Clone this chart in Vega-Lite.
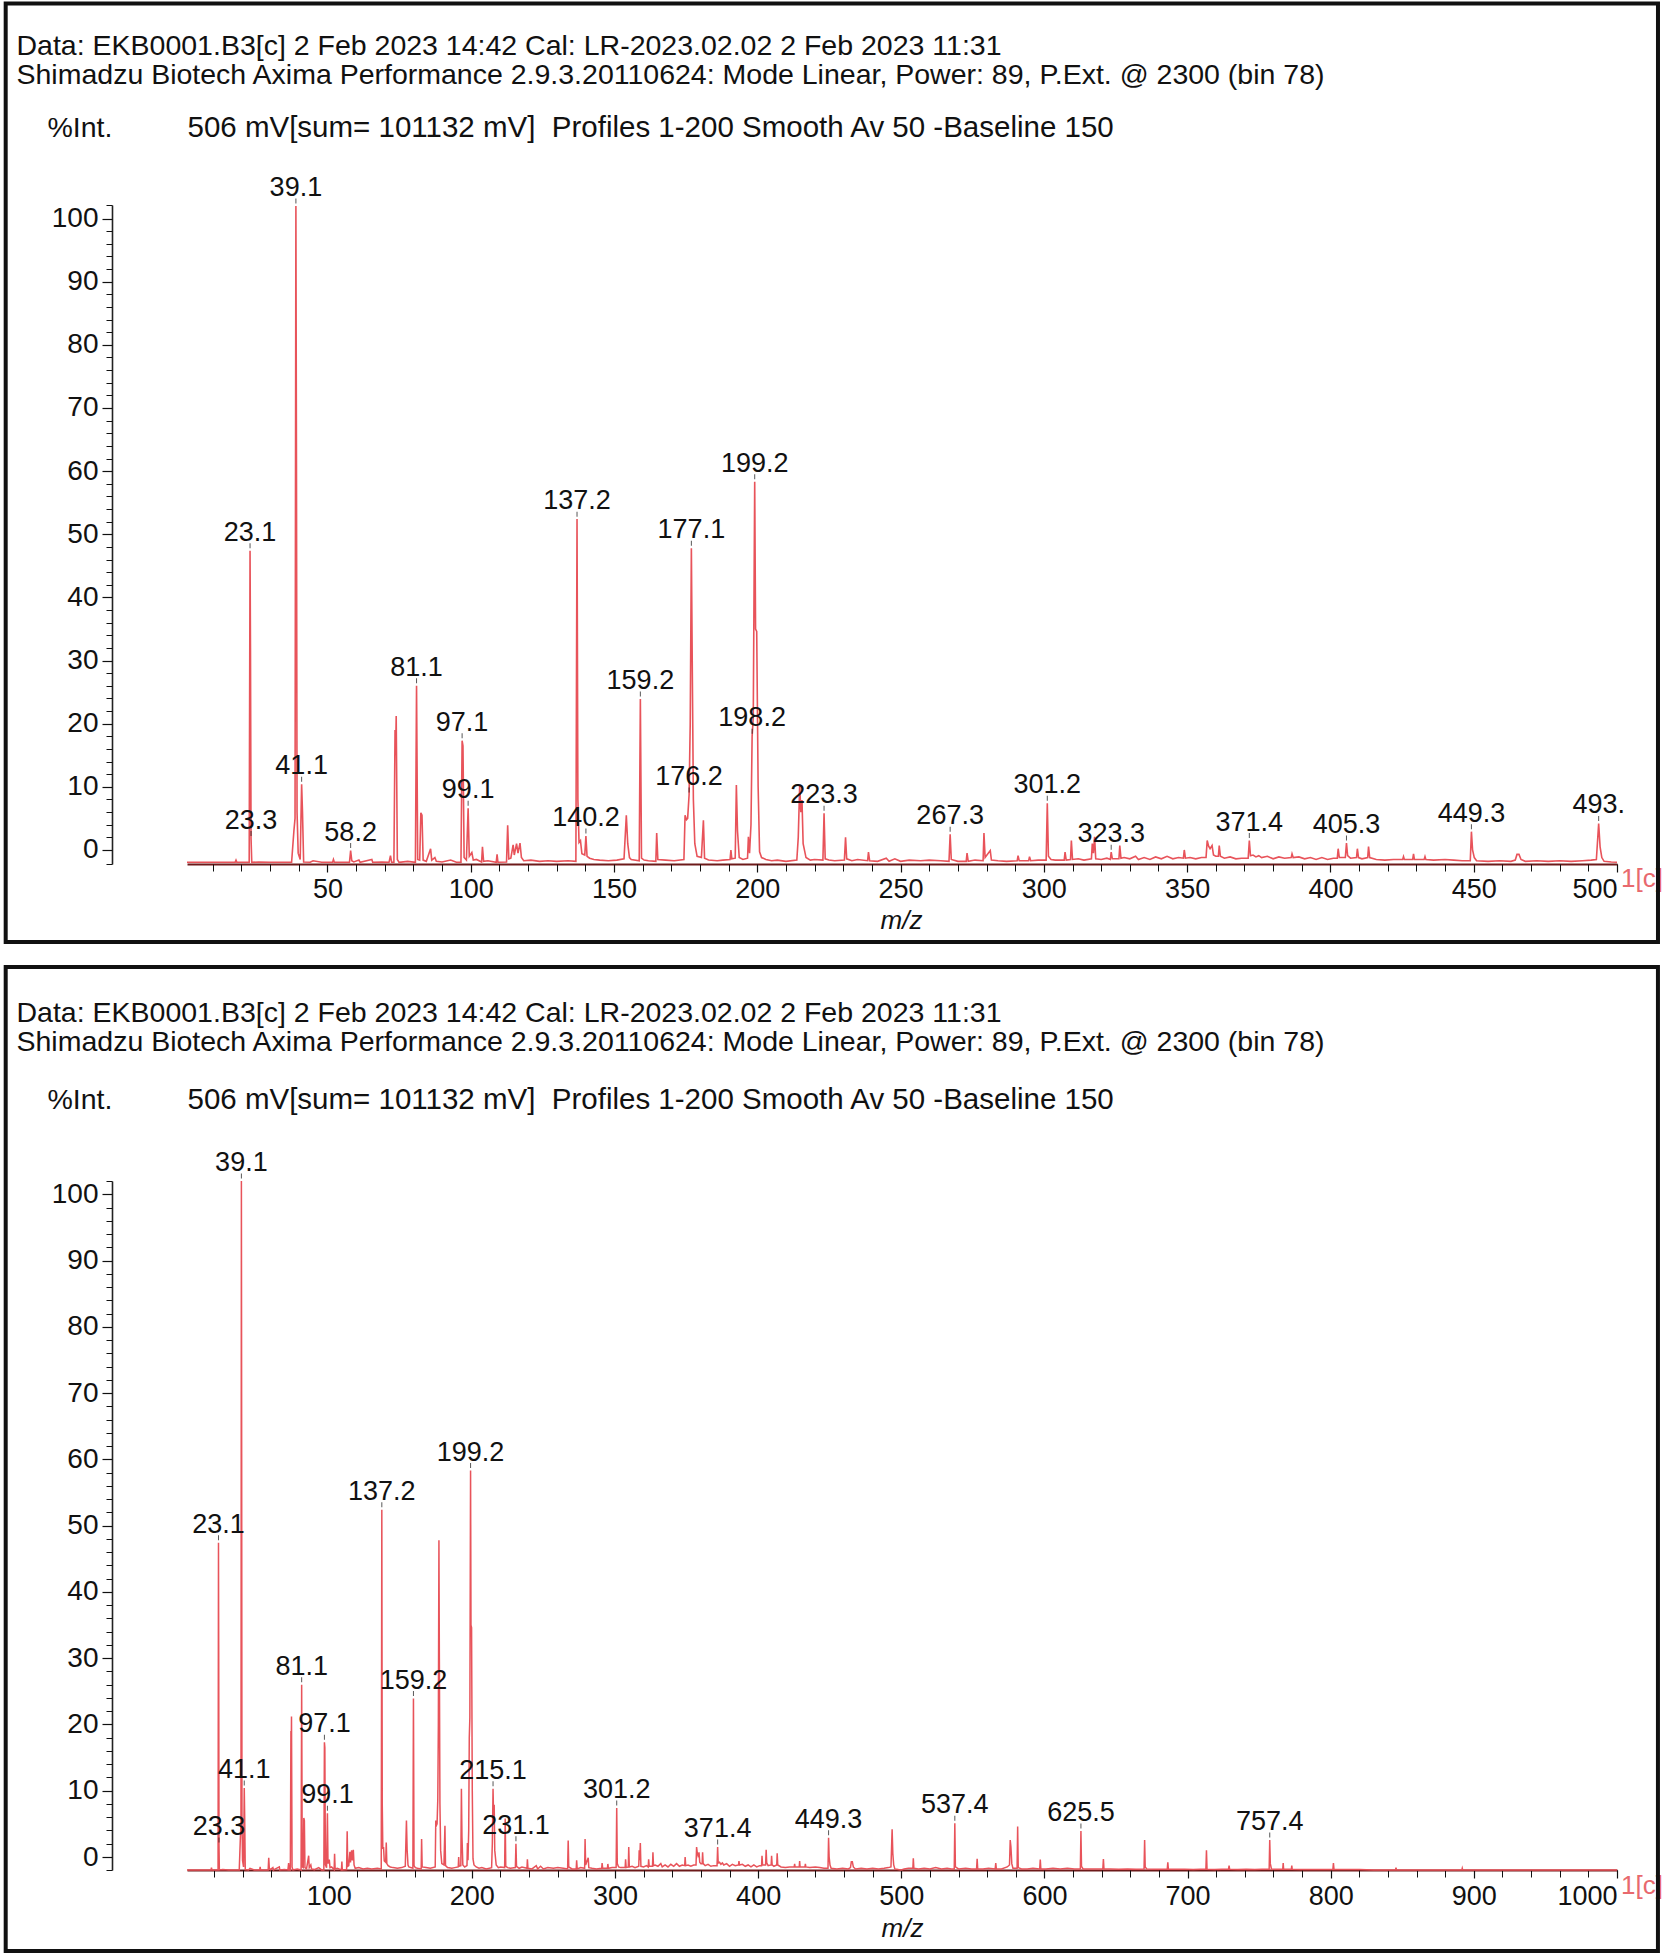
{
  "$schema": "https://vega.github.io/schema/vega-lite/v6.json",
  "background": "white",
  "padding": {"left": 3, "top": 1, "right": 0, "bottom": 0},
  "spacing": 20,
  "config": {
    "font": "Liberation Sans",
    "view": {"stroke": null},
    "axis": {"grid": false, "labelFont": "Liberation Sans", "titleFont": "Liberation Sans", "labelColor": "#111111", "titleColor": "#111111", "tickColor": "#111111", "titleFontWeight": "normal"}
  },
  "datasets": {
    "spectrum": [
      {"mz":1,"i":-1.95},{"mz":15,"i":-1.95},{"mz":17.8,"i":-1.95},{"mz":18.1,"i":-1.6},{"mz":18.4,"i":-1.95},
      {"mz":22.7,"i":-1.95},{"mz":23.0,"i":47.4},{"mz":23.15,"i":32},{"mz":23.35,"i":1.8},{"mz":23.6,"i":-1.95},{"mz":26,"i":-1.9},{"mz":30,"i":-1.95},
      {"mz":37.5,"i":-1.95},{"mz":38.3,"i":3.0},{"mz":38.7,"i":5.0},{"mz":39.0,"i":102.0},{"mz":39.2,"i":60},{"mz":39.4,"i":6},{"mz":39.8,"i":-0.5},{"mz":40.5,"i":-1.5},{"mz":41.0,"i":10.4},{"mz":41.3,"i":6},{"mz":41.7,"i":-1.9},{"mz":44,"i":-1.95},{"mz":45,"i":-1.7},{"mz":48,"i":-1.95},
      {"mz":51.8,"i":-1.95},{"mz":52.1,"i":-1.5},{"mz":52.4,"i":-1.95},{"mz":57.7,"i":-1.95},{"mz":58.1,"i":-0.1},{"mz":58.5,"i":-1.7},{"mz":59.2,"i":-1.9},{"mz":61,"i":-1.6},{"mz":61.4,"i":-1.95},{"mz":65.5,"i":-1.5},{"mz":65.8,"i":-1.95},{"mz":69,"i":-1.9},
      {"mz":71.5,"i":-1.95},{"mz":72,"i":-0.9},{"mz":72.4,"i":-1.95},{"mz":73.2,"i":-1.95},{"mz":73.6,"i":19.0},{"mz":73.8,"i":15},{"mz":74.0,"i":21.2},{"mz":74.4,"i":-1.5},{"mz":75,"i":-1.95},{"mz":78,"i":-1.8},
      {"mz":80.7,"i":-1.95},{"mz":81.1,"i":26.0},{"mz":81.5,"i":-1.5},{"mz":82.2,"i":-1.6},{"mz":82.6,"i":5.9},{"mz":83.0,"i":5.5},{"mz":83.4,"i":-1.6},{"mz":84.5,"i":-1.8},{"mz":86,"i":0.2},{"mz":86.4,"i":-1.6},{"mz":87.5,"i":-1.2},{"mz":88,"i":-1.8},{"mz":90,"i":-1.9},{"mz":93,"i":-1.6},{"mz":95,"i":-1.95},
      {"mz":96.6,"i":-1.95},{"mz":97.0,"i":17.3},{"mz":97.3,"i":16.5},{"mz":97.7,"i":-1.2},{"mz":98.5,"i":-1.6},{"mz":99.1,"i":6.6},{"mz":99.5,"i":-1.0},{"mz":100.4,"i":-0.4},{"mz":100.9,"i":-1.6},{"mz":102,"i":-1.5},{"mz":103.8,"i":-1.9},{"mz":104.1,"i":0.5},{"mz":104.5,"i":-1.8},{"mz":106,"i":-1.7},{"mz":108.9,"i":-1.95},{"mz":109.2,"i":-0.7},{"mz":109.5,"i":-1.95},
      {"mz":112.5,"i":-1.9},{"mz":112.9,"i":3.9},{"mz":113.3,"i":-1.4},{"mz":114,"i":-1.3},{"mz":114.8,"i":0.8},{"mz":115.2,"i":-0.8},{"mz":116,"i":1.0},{"mz":116.5,"i":-0.5},{"mz":117.2,"i":1.1},{"mz":117.7,"i":-1.2},{"mz":118.5,"i":-1.7},{"mz":121,"i":-1.6},{"mz":124,"i":-1.8},{"mz":127,"i":-1.7},{"mz":130,"i":-1.8},{"mz":134,"i":-1.7},
      {"mz":136.7,"i":-1.8},{"mz":137.1,"i":52.4},{"mz":137.4,"i":8},{"mz":137.8,"i":1.2},{"mz":138.3,"i":1.5},{"mz":138.8,"i":-0.6},{"mz":139.8,"i":-0.8},{"mz":140.2,"i":2.2},{"mz":140.6,"i":-1.0},{"mz":141.5,"i":-1.3},{"mz":143,"i":-1.5},{"mz":145,"i":-1.6},{"mz":148,"i":-1.7},{"mz":151,"i":-1.6},
      {"mz":153.5,"i":-1.4},{"mz":154.3,"i":5.5},{"mz":154.8,"i":1.0},{"mz":155.4,"i":-1.2},{"mz":156,"i":-1.5},{"mz":158.8,"i":-1.7},{"mz":159.2,"i":23.9},{"mz":159.6,"i":-1.3},{"mz":160.5,"i":-1.6},{"mz":162,"i":-1.7},{"mz":164.6,"i":-1.8},{"mz":164.9,"i":2.7},{"mz":165.3,"i":-1.5},{"mz":168,"i":-1.6},{"mz":171,"i":-1.7},
      {"mz":174.4,"i":-1.5},{"mz":174.8,"i":5.5},{"mz":175.3,"i":4.8},{"mz":175.7,"i":5.0},{"mz":176.2,"i":8.7},{"mz":176.6,"i":20},{"mz":177.0,"i":47.8},{"mz":177.3,"i":30},{"mz":177.7,"i":8},{"mz":178.2,"i":1.0},{"mz":179,"i":-1.0},{"mz":180.5,"i":-1.2},{"mz":181.2,"i":4.7},{"mz":181.6,"i":-1.3},{"mz":183,"i":-1.6},{"mz":186,"i":-1.7},{"mz":188,"i":-1.6},
      {"mz":190.5,"i":-1.5},{"mz":190.8,"i":0.0},{"mz":191.1,"i":-1.4},{"mz":192.3,"i":-1.3},{"mz":192.7,"i":10.3},{"mz":193.1,"i":3.0},{"mz":193.7,"i":-1.2},{"mz":195,"i":-1.5},
      {"mz":196.6,"i":-1.3},{"mz":196.9,"i":2.1},{"mz":197.3,"i":-0.5},{"mz":197.8,"i":4},{"mz":198.2,"i":18.0},{"mz":198.6,"i":21},{"mz":199.1,"i":58.3},{"mz":199.4,"i":35},{"mz":199.8,"i":34.6},{"mz":200.3,"i":10},{"mz":200.8,"i":-0.3},{"mz":201.5,"i":-1.2},{"mz":203,"i":-1.5},{"mz":205,"i":-1.7},{"mz":207,"i":-1.6},{"mz":210,"i":-1.8},
      {"mz":213.8,"i":-1.6},{"mz":214.3,"i":2.0},{"mz":214.8,"i":10.3},{"mz":215.2,"i":6},{"mz":215.6,"i":7.9},{"mz":216,"i":1.0},{"mz":217,"i":-1.2},{"mz":218.5,"i":-1.6},{"mz":220,"i":-1.5},{"mz":222.9,"i":-1.6},{"mz":223.3,"i":5.8},{"mz":223.7,"i":-1.4},{"mz":225,"i":-1.6},{"mz":227,"i":-1.7},
      {"mz":230.4,"i":-1.6},{"mz":230.8,"i":2.0},{"mz":231.2,"i":-1.4},{"mz":233,"i":-1.7},{"mz":235,"i":-1.5},{"mz":238.5,"i":-1.7},{"mz":238.8,"i":-0.35},{"mz":239.2,"i":-1.7},{"mz":242,"i":-1.8},{"mz":245,"i":-1.3},{"mz":246,"i":-1.8},{"mz":248,"i":-1.4},{"mz":250,"i":-1.8},{"mz":253,"i":-1.6},{"mz":257,"i":-1.7},{"mz":260,"i":-1.6},{"mz":264,"i":-1.7},
      {"mz":266.9,"i":-1.8},{"mz":267.3,"i":2.5},{"mz":267.7,"i":-1.5},{"mz":270,"i":-1.8},{"mz":272.9,"i":-1.8},{"mz":273.2,"i":-0.5},{"mz":273.6,"i":-1.8},{"mz":276,"i":-1.6},{"mz":278.8,"i":-1.7},{"mz":279.1,"i":2.7},{"mz":279.5,"i":-1.2},{"mz":281.3,"i":-0.1},{"mz":281.7,"i":-1.6},{"mz":284,"i":-1.7},{"mz":287,"i":-1.8},
      {"mz":290.7,"i":-1.7},{"mz":291,"i":-0.9},{"mz":291.4,"i":-1.7},{"mz":294.7,"i":-1.7},{"mz":295,"i":-1.05},{"mz":295.4,"i":-1.7},{"mz":298,"i":-1.6},{"mz":300.8,"i":-1.6},{"mz":301.2,"i":7.4},{"mz":301.6,"i":-1.0},{"mz":302.5,"i":-1.5},{"mz":304,"i":-1.6},
      {"mz":307.1,"i":-1.6},{"mz":307.4,"i":-0.35},{"mz":307.8,"i":-1.6},{"mz":309.3,"i":-1.5},{"mz":309.6,"i":1.5},{"mz":310,"i":-1.5},{"mz":312,"i":-1.4},{"mz":314,"i":-1.6},{"mz":316.6,"i":-1.4},{"mz":316.9,"i":1.0},{"mz":317.3,"i":-0.5},{"mz":317.7,"i":2.1},{"mz":318.1,"i":-1.4},{"mz":320,"i":-1.5},{"mz":322,"i":-1.3},
      {"mz":323.2,"i":-1.5},{"mz":323.5,"i":-0.35},{"mz":323.9,"i":-1.4},{"mz":325,"i":-1.4},{"mz":326.2,"i":-1.4},{"mz":326.5,"i":0.7},{"mz":326.9,"i":-1.3},{"mz":328,"i":-1.2},{"mz":330,"i":-1.4},{"mz":332,"i":-1.0},{"mz":333,"i":-1.5},{"mz":335,"i":-1.2},{"mz":337,"i":-1.5},{"mz":339,"i":-1.1},{"mz":341,"i":-1.4},{"mz":343,"i":-1.0},{"mz":345,"i":-1.4},{"mz":347,"i":-1.2},
      {"mz":348.7,"i":-1.3},{"mz":349,"i":0.0},{"mz":349.4,"i":-1.3},{"mz":351,"i":-1.2},{"mz":353,"i":-1.4},{"mz":355,"i":-1.2},{"mz":356.6,"i":-1.2},{"mz":357,"i":1.5},{"mz":357.5,"i":0.6},{"mz":358,"i":0.2},{"mz":358.7,"i":0.7},{"mz":359.2,"i":-0.8},{"mz":360,"i":-1.0},{"mz":360.9,"i":-1.0},{"mz":361.2,"i":0.7},{"mz":361.6,"i":-1.0},{"mz":363,"i":-1.3},{"mz":365,"i":-1.1},{"mz":367,"i":-1.4},{"mz":369,"i":-1.3},
      {"mz":371.3,"i":-1.3},{"mz":371.7,"i":1.5},{"mz":372.1,"i":-0.9},{"mz":373,"i":-0.8},{"mz":374,"i":-1.1},{"mz":375,"i":-0.9},{"mz":376,"i":-1.2},{"mz":378,"i":-1.0},{"mz":380,"i":-1.4},{"mz":382,"i":-1.1},{"mz":384,"i":-1.3},{"mz":386.3,"i":-1.2},{"mz":386.6,"i":-0.6},{"mz":387,"i":-1.2},{"mz":389,"i":-1.1},{"mz":391,"i":-1.4},{"mz":393,"i":-1.2},{"mz":395,"i":-1.5},{"mz":397,"i":-1.2},{"mz":399,"i":-1.5},{"mz":401,"i":-1.3},
      {"mz":402.4,"i":-1.3},{"mz":402.7,"i":0.2},{"mz":403.1,"i":-1.2},{"mz":405.2,"i":-1.2},{"mz":405.6,"i":1.1},{"mz":406,"i":-0.9},{"mz":407,"i":-1.3},{"mz":409.1,"i":-1.2},{"mz":409.4,"i":0.2},{"mz":409.8,"i":-1.2},{"mz":411,"i":-1.4},{"mz":413,"i":-1.2},{"mz":413.3,"i":0.55},{"mz":413.7,"i":-1.2},{"mz":416,"i":-1.5},{"mz":419,"i":-1.6},{"mz":422,"i":-1.5},
      {"mz":425.2,"i":-1.5},{"mz":425.5,"i":-1.05},{"mz":425.8,"i":-1.5},{"mz":428.7,"i":-1.5},{"mz":429,"i":-0.6},{"mz":429.3,"i":-1.5},{"mz":432.7,"i":-1.5},{"mz":433,"i":-1.05},{"mz":433.3,"i":-1.5},{"mz":436,"i":-1.6},{"mz":440,"i":-1.5},{"mz":443,"i":-1.6},{"mz":446,"i":-1.7},
      {"mz":448.8,"i":-1.7},{"mz":449.2,"i":2.9},{"mz":449.6,"i":0.0},{"mz":450.2,"i":-1.2},{"mz":451,"i":-1.7},{"mz":455,"i":-1.8},{"mz":459,"i":-1.7},{"mz":463,"i":-1.8},{"mz":464.5,"i":-1.6},{"mz":465.1,"i":-0.7},{"mz":465.8,"i":-0.7},{"mz":466.5,"i":-1.5},{"mz":468,"i":-1.8},{"mz":472,"i":-1.7},{"mz":476,"i":-1.8},{"mz":480,"i":-1.7},{"mz":484,"i":-1.8},{"mz":488,"i":-1.7},{"mz":491,"i":-1.6},
      {"mz":492.8,"i":-1.5},{"mz":493.6,"i":4.2},{"mz":494.1,"i":0.5},{"mz":494.7,"i":-1.2},{"mz":495.5,"i":-1.8},{"mz":498,"i":-1.9},{"mz":500,"i":-1.95},
      {"mz":502,"i":-1.8},{"mz":505,"i":-1.7},{"mz":508.1,"i":-1.7},{"mz":508.4,"i":-0.2},{"mz":508.8,"i":-1.7},{"mz":512,"i":-1.8},{"mz":516,"i":-1.7},{"mz":520,"i":-1.8},{"mz":524,"i":-1.6},{"mz":528,"i":-1.8},{"mz":532,"i":-1.7},{"mz":535,"i":-1.8},
      {"mz":537.0,"i":-1.8},{"mz":537.4,"i":5.1},{"mz":537.8,"i":-1.5},{"mz":540,"i":-1.8},{"mz":545,"i":-1.7},{"mz":549,"i":-1.8},{"mz":552.6,"i":-1.8},{"mz":553,"i":-0.26},{"mz":553.4,"i":-1.8},{"mz":557,"i":-1.8},{"mz":561,"i":-1.7},
      {"mz":565.6,"i":-1.8},{"mz":566,"i":-0.9},{"mz":566.4,"i":-1.8},{"mz":570,"i":-1.8},{"mz":574,"i":-1.5},{"mz":575.6,"i":-1.2},{"mz":576.1,"i":2.56},{"mz":576.6,"i":1.5},{"mz":577.2,"i":-1.0},{"mz":578,"i":-1.7},{"mz":580.9,"i":-1.7},{"mz":581.3,"i":4.6},{"mz":581.7,"i":-1.6},{"mz":584,"i":-1.8},{"mz":588,"i":-1.8},{"mz":592,"i":-1.7},
      {"mz":596.7,"i":-1.8},{"mz":597.1,"i":-0.4},{"mz":597.5,"i":-1.8},{"mz":601,"i":-1.8},{"mz":606,"i":-1.7},{"mz":611,"i":-1.8},{"mz":616,"i":-1.7},{"mz":621,"i":-1.8},
      {"mz":625.1,"i":-1.8},{"mz":625.5,"i":3.94},{"mz":625.9,"i":-1.4},{"mz":627,"i":-1.8},{"mz":631,"i":-1.8},{"mz":636,"i":-1.8},{"mz":640.8,"i":-1.8},{"mz":641.2,"i":-0.3},{"mz":641.6,"i":-1.8},{"mz":646,"i":-1.8},{"mz":652,"i":-1.85},{"mz":658,"i":-1.8},{"mz":664,"i":-1.85},
      {"mz":669.6,"i":-1.8},{"mz":670,"i":2.56},{"mz":670.4,"i":-1.5},{"mz":671.5,"i":-1.8},{"mz":677,"i":-1.85},{"mz":682,"i":-1.85},{"mz":685.8,"i":-1.85},{"mz":686.2,"i":-0.8},{"mz":686.6,"i":-1.85},{"mz":692,"i":-1.85},{"mz":698,"i":-1.85},{"mz":704,"i":-1.9},{"mz":709,"i":-1.85},
      {"mz":712.8,"i":-1.85},{"mz":713.2,"i":1.0},{"mz":713.6,"i":-1.85},{"mz":719,"i":-1.9},{"mz":724,"i":-1.85},{"mz":728.6,"i":-1.85},{"mz":729,"i":-1.3},{"mz":729.4,"i":-1.85},{"mz":735,"i":-1.9},{"mz":741,"i":-1.85},{"mz":747,"i":-1.9},{"mz":752,"i":-1.85},
      {"mz":757.0,"i":-1.85},{"mz":757.4,"i":2.56},{"mz":757.8,"i":-1.0},{"mz":758.6,"i":-1.8},{"mz":762,"i":-1.85},{"mz":766.5,"i":-1.8},{"mz":766.8,"i":-0.9},{"mz":767.1,"i":-1.8},{"mz":772.5,"i":-1.85},{"mz":772.8,"i":-1.3},{"mz":773.1,"i":-1.85},{"mz":780,"i":-1.9},{"mz":788,"i":-1.9},{"mz":795,"i":-1.9},
      {"mz":801.5,"i":-1.9},{"mz":801.9,"i":-0.9},{"mz":802.3,"i":-1.9},{"mz":810,"i":-1.9},{"mz":820,"i":-1.9},{"mz":830,"i":-1.95},{"mz":845.2,"i":-1.95},{"mz":845.6,"i":-1.6},{"mz":846,"i":-1.95},{"mz":860,"i":-1.95},{"mz":875,"i":-1.95},{"mz":891.6,"i":-1.95},{"mz":891.9,"i":-1.7},{"mz":892.2,"i":-1.95},{"mz":910,"i":-1.95},{"mz":940,"i":-1.95},{"mz":970,"i":-1.95},{"mz":1000,"i":-1.95}
    ],
    "top_labels": [
      {"mz":23.0,"i":47.4,"label":"23.1"},{"mz":23.35,"i":1.8,"label":"23.3"},{"mz":39.0,"i":102.0,"label":"39.1"},{"mz":41.0,"i":10.4,"label":"41.1"},{"mz":58.1,"i":-0.1,"label":"58.2"},
      {"mz":81.1,"i":26.0,"label":"81.1"},{"mz":97.0,"i":17.3,"label":"97.1"},{"mz":99.1,"i":6.6,"label":"99.1"},{"mz":137.1,"i":52.4,"label":"137.2"},{"mz":140.2,"i":2.2,"label":"140.2"},
      {"mz":159.2,"i":23.9,"label":"159.2"},{"mz":176.2,"i":8.7,"label":"176.2"},{"mz":177.0,"i":47.8,"label":"177.1"},{"mz":198.2,"i":18.0,"label":"198.2"},{"mz":199.1,"i":58.3,"label":"199.2"},
      {"mz":223.3,"i":5.8,"label":"223.3"},{"mz":267.3,"i":2.5,"label":"267.3"},{"mz":301.2,"i":7.4,"label":"301.2"},{"mz":323.5,"i":-0.35,"label":"323.3"},{"mz":371.7,"i":1.5,"label":"371.4"},
      {"mz":405.6,"i":1.1,"label":"405.3"},{"mz":449.2,"i":2.9,"label":"449.3"},{"mz":493.6,"i":4.2,"label":"493."}
    ],
    "bottom_labels": [
      {"mz":23.0,"i":47.4,"label":"23.1"},{"mz":23.35,"i":1.8,"label":"23.3"},{"mz":39.0,"i":102.0,"label":"39.1"},{"mz":41.0,"i":10.4,"label":"41.1"},{"mz":81.1,"i":26.0,"label":"81.1"},
      {"mz":97.0,"i":17.3,"label":"97.1"},{"mz":99.1,"i":6.6,"label":"99.1"},{"mz":137.1,"i":52.4,"label":"137.2"},{"mz":159.2,"i":23.9,"label":"159.2"},{"mz":199.1,"i":58.3,"label":"199.2"},
      {"mz":214.8,"i":10.3,"label":"215.1"},{"mz":230.8,"i":2.0,"label":"231.1"},{"mz":301.2,"i":7.4,"label":"301.2"},{"mz":371.7,"i":1.5,"label":"371.4"},{"mz":449.2,"i":2.9,"label":"449.3"},
      {"mz":537.4,"i":5.1,"label":"537.4"},{"mz":625.5,"i":3.94,"label":"625.5"},{"mz":757.4,"i":2.56,"label":"757.4"}
    ],
    "series": [{"label": "1[c]"}],
    "frame": [{"panel": "frame"}]
  },
  "vconcat": [
    {
      "width": 1430,
      "height": 659,
      "resolve": {"scale": {"x": "shared", "y": "shared"}, "axis": {"x": "independent", "y": "independent"}},
      "layer": [
        {
          "data": {"name": "spectrum"},
          "transform": [{"filter": "datum.mz <= 500"}],
          "mark": {"type": "line", "color": "#e8535a", "strokeWidth": 1.6},
          "encoding": {
            "x": {"field": "mz", "type": "quantitative", "scale": {"domain": [1, 500], "nice": false, "zero": false},
              "axis": {"orient": "bottom", "zindex": 0, "values": [50,100,150,200,250,300,350,400,450,500], "format": "d", "tickSize": 8, "tickWidth": 1.2, "domainColor": "#6d1a1a", "domainWidth": 2.2, "labelFontSize": 27, "labelPadding": 4, "labelFlush": true,
                "title": "m/z", "titleFontStyle": "italic", "titleFontSize": 26, "titleX": 714, "titleY": 56, "titleAlign": "center", "titleBaseline": "middle", "titleAngle": 0}},
            "y": {"field": "i", "type": "quantitative", "scale": {"domain": [-2.22, 102.15], "nice": false, "zero": false},
              "axis": {"orient": "left", "offset": 75, "zindex": 0, "values": [0,10,20,30,40,50,60,70,80,90,100], "tickSize": 10, "tickWidth": 1.2, "domainColor": "#222222", "domainWidth": 1.6, "labelFontSize": 28, "labelPadding": 4,
                "title": "%Int.", "titleFontSize": 28.5, "titleAngle": 0, "titleX": -65, "titleY": -77.5, "titleAlign": "left", "titleBaseline": "middle"}}
          }
        },
        {
          "data": {"name": "top_labels"},
          "mark": {"type": "tick", "orient": "vertical", "size": 5, "thickness": 1, "color": "#111111", "yOffset": -5},
          "encoding": {
            "x": {"field": "mz", "type": "quantitative", "scale": {"domain": [1, 500], "nice": false, "zero": false},
              "axis": {"orient": "bottom", "zindex": 0, "values": [10,20,30,40,50,60,70,80,90,100,110,120,130,140,150,160,170,180,190,200,210,220,230,240,250,260,270,280,290,300,310,320,330,340,350,360,370,380,390,400,410,420,430,440,450,460,470,480,490,500], "tickSize": 7, "tickWidth": 1, "domain": false, "labels": false,
                "title": ["Data: EKB0001.B3[c] 2 Feb 2023 14:42 Cal: LR-2023.02.02 2 Feb 2023 11:31", "Shimadzu Biotech Axima Performance 2.9.3.20110624: Mode Linear, Power: 89, P.Ext. @ 2300 (bin 78)"],
                "titleFontSize": 28.5, "titleLineHeight": 29.5, "titleX": -171, "titleY": -819, "titleAlign": "left", "titleBaseline": "middle", "titleAngle": 0}},
            "y": {"field": "i", "type": "quantitative", "scale": {"domain": [-2.22, 102.15], "nice": false, "zero": false},
              "axis": {"orient": "left", "offset": 75, "zindex": 0, "values": [-2.22,0,2,4,6,8,10,12,14,16,18,20,22,24,26,28,30,32,34,36,38,40,42,44,46,48,50,52,54,56,58,60,62,64,66,68,70,72,74,76,78,80,82,84,86,88,90,92,94,96,98,100,102.15], "tickSize": 6, "tickWidth": 1, "domain": false, "labels": false,
                "title": "506 mV[sum= 101132 mV]\u00a0 Profiles 1-200 Smooth Av 50 -Baseline 150", "titleFontSize": 29.5, "titleAngle": 0, "titleX": 75, "titleY": -77.5, "titleAlign": "left", "titleBaseline": "middle"}}
          }
        },
        {
          "data": {"name": "top_labels"},
          "mark": {"type": "text", "fontSize": 27, "color": "#111111", "align": "center", "baseline": "alphabetic", "dy": -10},
          "encoding": {
            "x": {"field": "mz", "type": "quantitative", "scale": {"domain": [1, 500], "nice": false, "zero": false}, "axis": null},
            "y": {"field": "i", "type": "quantitative", "scale": {"domain": [-2.22, 102.15], "nice": false, "zero": false}, "axis": null},
            "text": {"field": "label"}
          }
        },
        {
          "data": {"name": "series"},
          "mark": {"type": "text", "fontSize": 26, "color": "#e8696e", "align": "left", "baseline": "middle", "dx": 4, "dy": 15},
          "encoding": {
            "x": {"datum": 500, "type": "quantitative", "scale": {"domain": [1, 500], "nice": false, "zero": false}, "axis": null},
            "y": {"datum": -2.22, "type": "quantitative", "scale": {"domain": [-2.22, 102.15], "nice": false, "zero": false}, "axis": null},
            "text": {"field": "label"}
          }
        },
        {
          "data": {"name": "frame"},
          "mark": {"type": "rect", "fill": "transparent", "stroke": "#111111", "strokeWidth": 4},
          "encoding": {
            "x": {"datum": -62.27, "type": "quantitative", "scale": {"domain": [1, 500], "nice": false, "zero": false}, "axis": null},
            "x2": {"datum": 514.3},
            "y": {"datum": 134.06, "type": "quantitative", "scale": {"domain": [-2.22, 102.15], "nice": false, "zero": false}, "axis": null},
            "y2": {"datum": -14.57}
          }
        }
      ]
    },
    {
      "width": 1430,
      "height": 689,
      "resolve": {"scale": {"x": "shared", "y": "shared"}, "axis": {"x": "independent", "y": "independent"}},
      "layer": [
        {
          "data": {"name": "spectrum"},
          "mark": {"type": "line", "color": "#e8535a", "strokeWidth": 1.5},
          "encoding": {
            "x": {"field": "mz", "type": "quantitative", "scale": {"domain": [1, 1000], "nice": false, "zero": false},
              "axis": {"orient": "bottom", "zindex": 0, "values": [100,200,300,400,500,600,700,800,900,1000], "format": "d", "tickSize": 8, "tickWidth": 1.2, "domainColor": "#6d1a1a", "domainWidth": 2.2, "labelFontSize": 27, "labelPadding": 5, "labelFlush": true,
                "title": "m/z", "titleFontStyle": "italic", "titleFontSize": 26, "titleX": 715, "titleY": 58, "titleAlign": "center", "titleBaseline": "middle", "titleAngle": 0}},
            "y": {"field": "i", "type": "quantitative", "scale": {"domain": [-1.96, 102.0], "nice": false, "zero": false},
              "axis": {"orient": "left", "offset": 75, "zindex": 0, "values": [0,10,20,30,40,50,60,70,80,90,100], "tickSize": 10, "tickWidth": 1.2, "domainColor": "#222222", "domainWidth": 1.6, "labelFontSize": 28, "labelPadding": 4,
                "title": "%Int.", "titleFontSize": 28.5, "titleAngle": 0, "titleX": -65, "titleY": -81.5, "titleAlign": "left", "titleBaseline": "middle"}}
          }
        },
        {
          "data": {"name": "bottom_labels"},
          "mark": {"type": "tick", "orient": "vertical", "size": 5, "thickness": 1, "color": "#111111", "yOffset": -5},
          "encoding": {
            "x": {"field": "mz", "type": "quantitative", "scale": {"domain": [1, 1000], "nice": false, "zero": false},
              "axis": {"orient": "bottom", "zindex": 0, "values": [20,40,60,80,100,120,140,160,180,200,220,240,260,280,300,320,340,360,380,400,420,440,460,480,500,520,540,560,580,600,620,640,660,680,700,720,740,760,780,800,820,840,860,880,900,920,940,960,980,1000], "tickSize": 7, "tickWidth": 1, "domain": false, "labels": false,
                "title": ["Data: EKB0001.B3[c] 2 Feb 2023 14:42 Cal: LR-2023.02.02 2 Feb 2023 11:31", "Shimadzu Biotech Axima Performance 2.9.3.20110624: Mode Linear, Power: 89, P.Ext. @ 2300 (bin 78)"],
                "titleFontSize": 28.5, "titleLineHeight": 29.5, "titleX": -171, "titleY": -858, "titleAlign": "left", "titleBaseline": "middle", "titleAngle": 0}},
            "y": {"field": "i", "type": "quantitative", "scale": {"domain": [-1.96, 102.0], "nice": false, "zero": false},
              "axis": {"orient": "left", "offset": 75, "zindex": 0, "values": [-1.96,0,2,4,6,8,10,12,14,16,18,20,22,24,26,28,30,32,34,36,38,40,42,44,46,48,50,52,54,56,58,60,62,64,66,68,70,72,74,76,78,80,82,84,86,88,90,92,94,96,98,100,102.0], "tickSize": 6, "tickWidth": 1, "domain": false, "labels": false,
                "title": "506 mV[sum= 101132 mV]\u00a0 Profiles 1-200 Smooth Av 50 -Baseline 150", "titleFontSize": 29.5, "titleAngle": 0, "titleX": 75, "titleY": -81.5, "titleAlign": "left", "titleBaseline": "middle"}}
          }
        },
        {
          "data": {"name": "bottom_labels"},
          "mark": {"type": "text", "fontSize": 27, "color": "#111111", "align": "center", "baseline": "alphabetic", "dy": -10},
          "encoding": {
            "x": {"field": "mz", "type": "quantitative", "scale": {"domain": [1, 1000], "nice": false, "zero": false}, "axis": null},
            "y": {"field": "i", "type": "quantitative", "scale": {"domain": [-1.96, 102.0], "nice": false, "zero": false}, "axis": null},
            "text": {"field": "label"}
          }
        },
        {
          "data": {"name": "series"},
          "mark": {"type": "text", "fontSize": 26, "color": "#e8696e", "align": "left", "baseline": "middle", "dx": 4, "dy": 16},
          "encoding": {
            "x": {"datum": 1000, "type": "quantitative", "scale": {"domain": [1, 1000], "nice": false, "zero": false}, "axis": null},
            "y": {"datum": -1.96, "type": "quantitative", "scale": {"domain": [-1.96, 102.0], "nice": false, "zero": false}, "axis": null},
            "text": {"field": "label"}
          }
        },
        {
          "data": {"name": "frame"},
          "mark": {"type": "rect", "fill": "transparent", "stroke": "#111111", "strokeWidth": 4},
          "encoding": {
            "x": {"datum": -125.66, "type": "quantitative", "scale": {"domain": [1, 1000], "nice": false, "zero": false}, "axis": null},
            "x2": {"datum": 1028.6},
            "y": {"datum": 134.29, "type": "quantitative", "scale": {"domain": [-1.96, 102.0], "nice": false, "zero": false}, "axis": null},
            "y2": {"datum": -14.18}
          }
        }
      ]
    }
  ]
}
